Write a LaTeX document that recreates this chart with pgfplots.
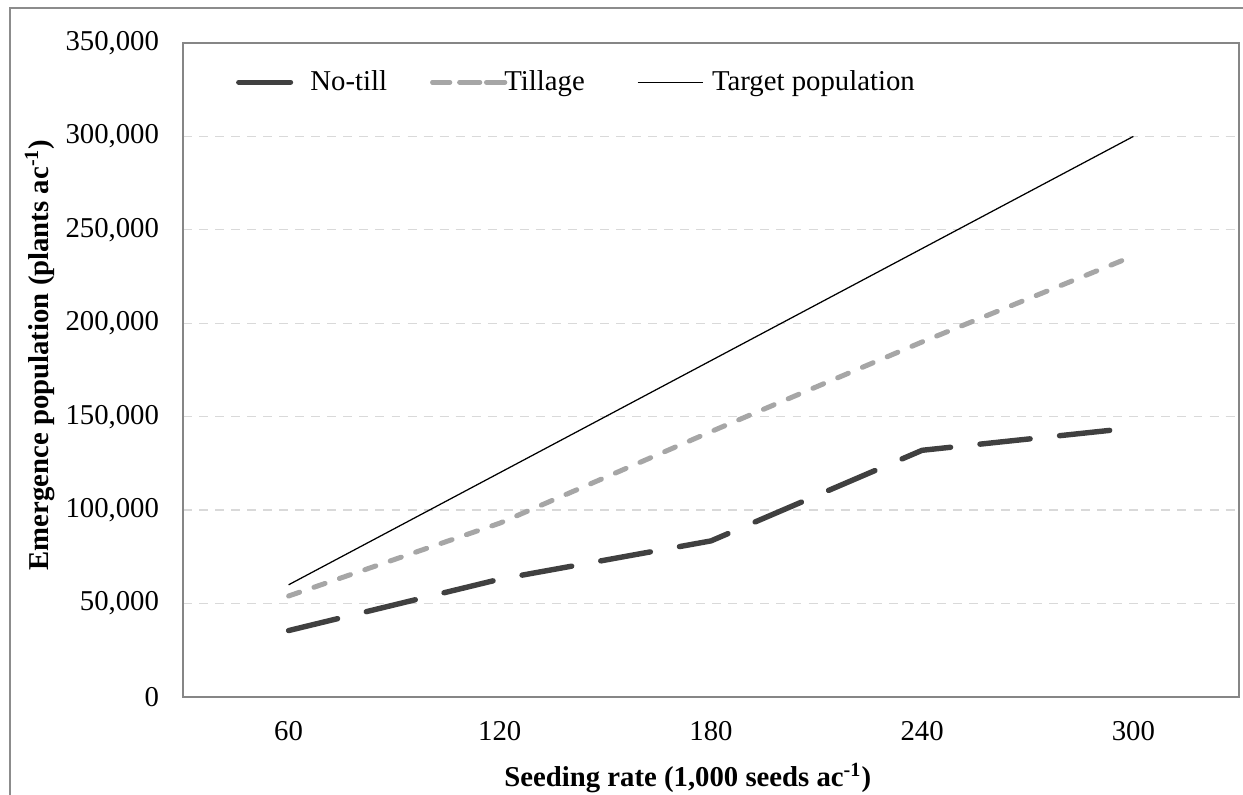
\documentclass[border=0pt]{standalone}
\usepackage{fontspec}
\setmainfont{Liberation Serif}
\usepackage{pgfplots}
\pgfplotsset{compat=1.18}

\definecolor{notill}{HTML}{404040}
\definecolor{tillage}{HTML}{A6A6A6}
\definecolor{gridgray}{HTML}{D9D9D9}
\definecolor{axisgray}{HTML}{868686}
\definecolor{framegray}{HTML}{8C8C8C}

\newcommand{\chartfont}{\fontsize{13.8}{16}\selectfont}

% legend samples, one per series
\pgfplotsset{
    notill legend/.style={legend image code/.code={
        \draw[##1, solid] (0pt,0pt) -- (24.8pt,0pt);
        \path (31.1pt,0pt);
    }},
    tillage legend/.style={legend image code/.code={
        \path (0pt,0pt) -- (31.2pt,0pt);
        \draw[##1, overlay, dash pattern=on 8.2pt off 6.2pt] (0pt,0pt) -- (34.6pt,0pt);
    }},
    target legend/.style={legend image code/.code={
        \draw[##1] (0pt,0pt) -- (31.6pt,0pt);
        \path (33.5pt,0pt);
    }},
}

\begin{document}
\begin{tikzpicture}
\useasboundingbox (0pt,0pt) rectangle (596.7pt,381.6pt);
% chart area frame (right and bottom edges lie outside the page)
\draw[framegray, line width=0.7pt] (4.8pt,-20pt) -- (4.8pt,377.8pt) -- (640pt,377.8pt);

\begin{axis}[
    at={(87.85pt,47.05pt)}, anchor=south west,
    scale only axis,
    width=506.9pt, height=313.9pt,
    xmin=30, xmax=330,
    ymin=0, ymax=350000,
    xtick={60,120,180,240,300},
    xticklabels={60,120,180,240,300},
    ytick={0,50000,100000,150000,200000,250000,300000,350000},
    yticklabels={0,{50,000},{100,000},{150,000},{200,000},{250,000},{300,000},{350,000}},
    scaled y ticks=false,
    tick style={draw=none},
    axis line style={axisgray, line width=0.7pt},
    ymajorgrids=true,
    grid style={gridgray, line width=0.6pt, dash pattern=on 4.3pt off 3.4pt},
    ticklabel style={font=\chartfont},
    yticklabel style={xshift=-8pt},
    xticklabel style={yshift=-8pt},
    xlabel={\textbf{Seeding rate (1,000 seeds ac\textsuperscript{-1})}},
    ylabel={\textbf{Emergence population (plants ac\textsuperscript{-1})}},
    xlabel style={font=\chartfont, at={(axis description cs:0.478,-0.124)}, anchor=center},
    ylabel style={font=\chartfont, at={(axis description cs:-0.1354,0.523)}, anchor=center},
    legend columns=3,
    legend cell align=left,
    legend style={draw=none, fill=none, inner sep=0pt,
        at={(axis description cs:0.0499,0.940)}, anchor=west,
        font=\chartfont,
        /tikz/column 2/.style={column sep=18.7pt},
        /tikz/column 4/.style={column sep=23pt}},
]

\addplot[notill, line width=2.6pt, line cap=round, line join=round,
    dash pattern=on 24.2pt off 14.2pt, notill legend]
    coordinates {
        (60, 35500)
        (120, 63000)
        (180, 83500)
        (240, 132000)
        (300, 144000)
    };
\addlegendentry{No-till}

\addplot[tillage, line width=2.4pt, line cap=round, line join=round,
    dash pattern=on 5.6pt off 7.3pt, tillage legend]
    coordinates {
        (60, 54000)
        (120, 93000)
        (180, 142000)
        (240, 190000)
        (300, 236000)
    };
\addlegendentry{Tillage}

\addplot[black, line width=0.6pt, target legend]
    coordinates {
        (60, 60000)
        (120, 120000)
        (180, 180000)
        (240, 240000)
        (300, 300000)
    };
\addlegendentry{Target population}

\end{axis}
\end{tikzpicture}
\end{document}
